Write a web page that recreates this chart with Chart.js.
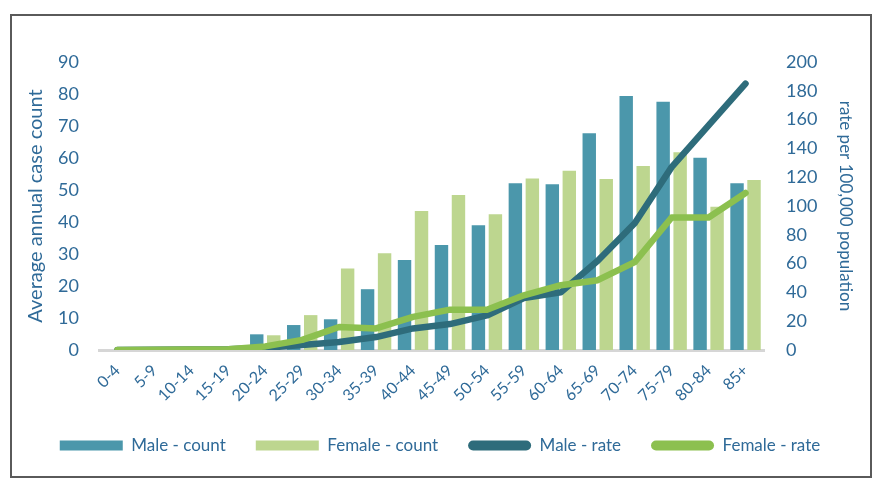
<!DOCTYPE html>
<html>
<head>
<meta charset="utf-8">
<script src="https://cdn.jsdelivr.net/npm/chart.js@4"></script>
<style>
  html, body { margin: 0; padding: 0; background: #fff; }
  #wrap { position: relative; width: 892px; height: 488px; }
</style>
</head>
<body>
<div id="wrap"><canvas id="chart" width="892" height="488"></canvas></div>
<script>
// age groups
const ageGroups = ['0-4', '5-9', '10-14', '15-19', '20-24', '25-29', '30-34', '35-39', '40-44',
  '45-49', '50-54', '55-59', '60-64', '65-69', '70-74', '75-79', '80-84', '85+'];

// average annual case count (left axis)
const maleCount   = [0, 0, 0.2, 0.3, 4.9, 7.8, 9.6, 19, 28.1, 32.8, 39, 52.1, 51.8, 67.7, 79.4, 77.6, 60.1, 52.1];
const femaleCount = [0, 0, 0.2, 0.2, 4.6, 10.9, 25.5, 30.2, 43.4, 48.4, 42.4, 53.6, 56, 53.4, 57.5, 61.8, 44.8, 53.1];

// rate per 100,000 population (right axis)
const maleRate   = [0, 0.2, 0.3, 0.5, 1.5, 3.5, 5.5, 9, 15, 18, 24, 36, 40, 62, 88, 127, 156, 185];
const femaleRate = [0, 0.2, 0.3, 0.5, 2.5, 7, 16, 15, 23, 28, 28, 38, 45, 48.5, 61, 92, 92, 109];

const countTicks = [0, 10, 20, 30, 40, 50, 60, 70, 80, 90];
const rateTicks  = [0, 20, 40, 60, 80, 100, 120, 140, 160, 180, 200];

const TEXT = '#2f6a98';
const FONT = 'Lato, "Open Sans", sans-serif';

// frame round the whole figure
const framePlugin = {
  id: 'frame',
  beforeDraw(chart) {
    const ctx = chart.ctx;
    ctx.save();
    ctx.fillStyle = '#fff';
    ctx.fillRect(0, 0, chart.width, chart.height);
    ctx.strokeStyle = '#5a5a5a';
    ctx.lineWidth = 2;
    ctx.strokeRect(11, 15, 860, 462);
    ctx.restore();
  }
};

new Chart(document.getElementById('chart'), {
  data: {
    labels: ageGroups,
    datasets: [
      {
        type: 'bar', label: 'Male - count', data: maleCount, yAxisID: 'yCount',
        backgroundColor: '#4b97ab', order: 2,
        categoryPercentage: 0.92, barPercentage: 0.79
      },
      {
        type: 'bar', label: 'Female - count', data: femaleCount, yAxisID: 'yCount',
        backgroundColor: '#bdd68f', order: 2,
        categoryPercentage: 0.92, barPercentage: 0.79
      },
      {
        type: 'line', label: 'Male - rate', data: maleRate, yAxisID: 'yRate',
        borderColor: '#2e6c7b', backgroundColor: '#2e6c7b', borderWidth: 6.5,
        pointRadius: 0, tension: 0, borderCapStyle: 'round', borderJoinStyle: 'round', order: 1
      },
      {
        type: 'line', label: 'Female - rate', data: femaleRate, yAxisID: 'yRate',
        borderColor: '#8cc04f', backgroundColor: '#8cc04f', borderWidth: 6.5,
        pointRadius: 0, tension: 0, borderCapStyle: 'round', borderJoinStyle: 'round', order: 0
      }
    ]
  },
  options: {
    responsive: false,
    animation: false,
    layout: { padding: { top: 62, left: 24, right: 36, bottom: 24 } },
    plugins: {
      tooltip: { enabled: false },
      legend: {
        position: 'bottom',
        labels: {
          color: TEXT,
          font: { family: FONT, size: 17 },
          boxWidth: 63,
          boxHeight: 10,
          padding: 30,
          useBorderRadius: true,
          generateLabels(chart) {
            return chart.data.datasets.map((ds, i) => ({
              text: ds.label,
              fillStyle: ds.type === 'line' ? ds.borderColor : ds.backgroundColor,
              strokeStyle: 'rgba(0,0,0,0)',
              lineWidth: 0,
              borderRadius: ds.type === 'line' ? 5 : 0,
              fontColor: TEXT,
              datasetIndex: i,
              hidden: false
            }));
          }
        }
      }
    },
    scales: {
      x: {
        grid: { display: false },
        border: { display: true, color: '#d6d6d6', width: 3 },
        ticks: {
          color: TEXT, font: { family: FONT, size: 16 },
          minRotation: 45, maxRotation: 45, padding: 3
        },
        afterFit(scale) { scale.height = 57; }
      },
      yCount: {
        position: 'left',
        min: 0, max: 90,
        grid: { display: false },
        border: { display: false },
        afterBuildTicks(scale) { scale.ticks = countTicks.map(v => ({ value: v })); },
        ticks: { color: TEXT, font: { family: FONT, size: 18 }, padding: 12 },
        title: {
          display: true, text: 'Average annual case count',
          color: TEXT, font: { family: FONT, size: 20 }, padding: { top: 0, bottom: 0 }
        },
        afterFit(scale) { scale.width = 75; }
      },
      yRate: {
        position: 'right',
        min: 0, max: 200,
        grid: { display: false },
        border: { display: false },
        afterBuildTicks(scale) { scale.ticks = rateTicks.map(v => ({ value: v })); },
        ticks: { color: TEXT, font: { family: FONT, size: 18 }, padding: 14 },
        title: {
          display: true, text: 'rate per 100,000 population',
          color: TEXT, font: { family: FONT, size: 17 }, padding: { top: 0, bottom: 0 }
        },
        afterFit(scale) { scale.width = 92; }
      }
    }
  },
  plugins: [framePlugin]
});
</script>
</body>
</html>
